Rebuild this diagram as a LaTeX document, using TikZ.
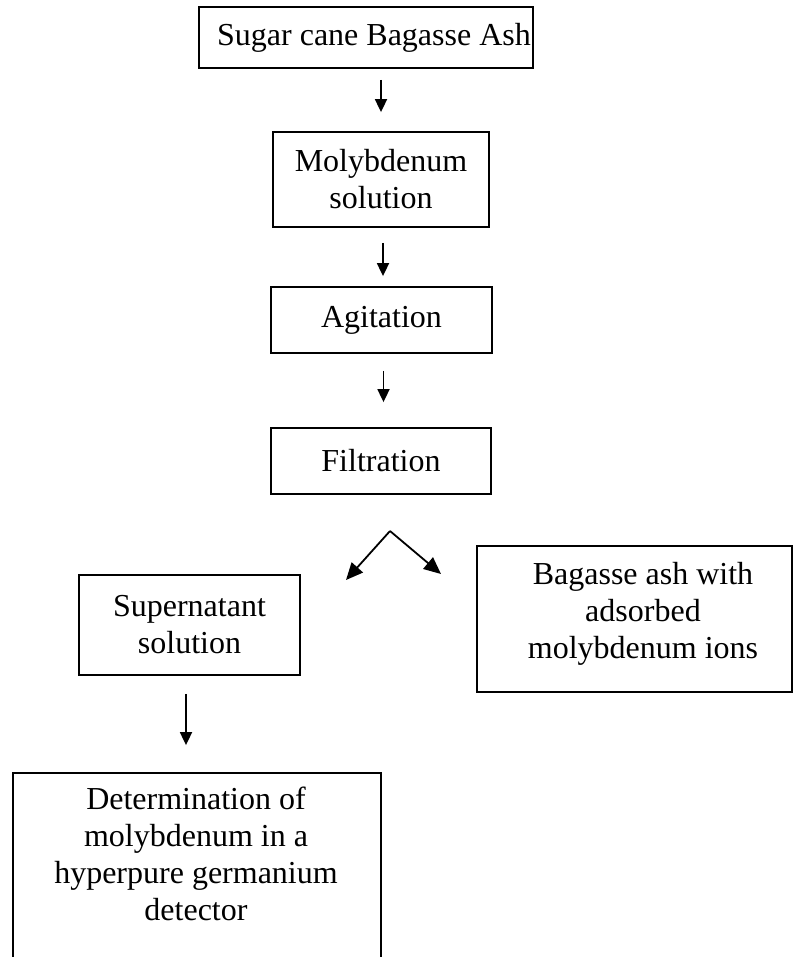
\documentclass[tikz,border=0pt]{standalone}
\usepackage{fontspec}
\setmainfont{Liberation Serif}
\usetikzlibrary{arrows.meta,calc}
\begin{document}
\begin{tikzpicture}[x=1bp,y=-1bp,
  box/.style={draw,line width=1.8bp,inner sep=0pt,align=center,font=\fontsize{32bp}{37bp}\selectfont},
  txt/.style={inner sep=0pt,align=center,font=\fontsize{32bp}{37bp}\selectfont},
  arr/.style={line width=1.8bp,-{Triangle[length=13bp,width=12bp]}},
  arrb/.style={line width=1.8bp,-{Triangle[length=17bp,width=15bp]}}]
\useasboundingbox (0,0) rectangle (793,957);
\clip (0,0) rectangle (793,957);
\node[box,minimum width=334bp,minimum height=61bp] (ash) at (366,37.5) {\hspace*{16bp}Sugar cane Bagasse Ash};
\node[box,minimum width=216bp,minimum height=95bp] (mol) at (381,179.5) {Molybdenum\\solution};
\node[box,minimum width=221bp,minimum height=66bp] (agi) at (381.5,320) {Agitation};
\node[box,minimum width=220bp,minimum height=66bp] (fil) at (381,461) {Filtration};
\node[box,minimum width=221bp,minimum height=100bp] (sup) at (189.5,625) {Supernatant\\solution};
\node[box,minimum width=315bp,minimum height=146bp] (bag) at (634.5,619) {};
\node[txt,anchor=north] (bagtxt) at (643,562) {Bagasse ash with\\adsorbed\\molybdenum ions};
\node[box,minimum width=368bp,minimum height=217bp] (det) at (197,881.5) {};
\node[txt,anchor=north] (dettxt) at (196,787) {Determination of\\molybdenum in a\\hyperpure germanium\\detector};
\coordinate (split) at (390,531);
\coordinate (tipL) at (346,580);
\coordinate (tipR) at (441,574);
\draw[arr,shorten <=11bp,shorten >=19bp] (ash.south -| mol.north) -- (mol.north);
\draw[arr,shorten <=15bp,shorten >=10bp] ([xshift=2bp]mol.south) -- ([xshift=2bp]mol.south |- agi.north);
\draw[arr,shorten <=17bp,shorten >=25bp] ([xshift=2bp]agi.south) -- ([xshift=2bp]agi.south |- fil.north);
\draw[arrb] (split) -- (tipL);
\draw[arrb] (split) -- (tipR);
\draw[arr,shorten <=18bp,shorten >=27bp] ([xshift=-3.5bp]sup.south) -- ([xshift=-3.5bp]sup.south |- det.north);
\end{tikzpicture}
\end{document}
